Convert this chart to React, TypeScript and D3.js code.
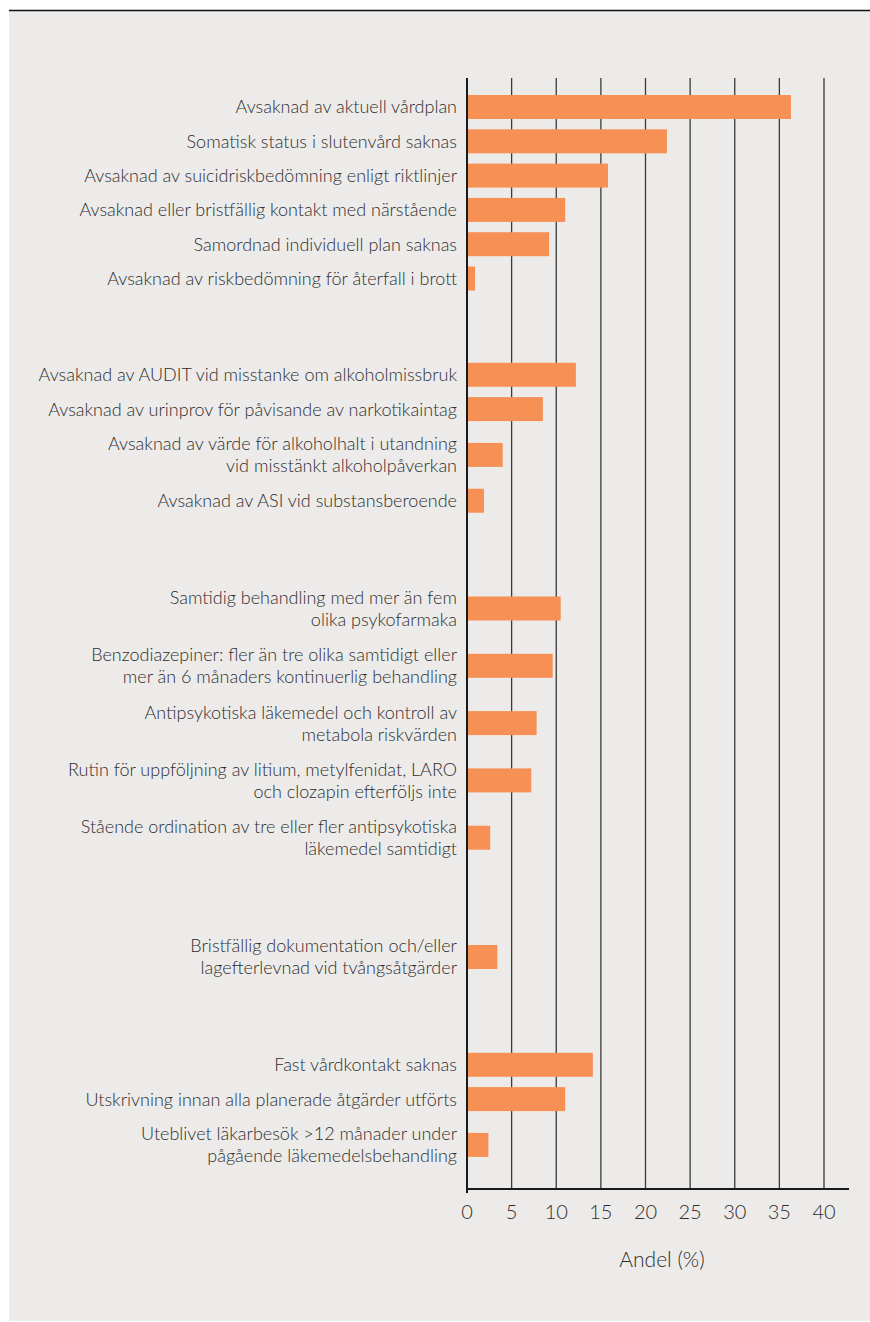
import React from "react";
import * as d3 from "d3";

const labels: string[] = [
  "Avsaknad av aktuell vårdplan",
  "Somatisk status i slutenvård saknas",
  "Avsaknad av suicidriskbedömning enligt riktlinjer",
  "Avsaknad eller bristfällig kontakt med närstående",
  "Samordnad individuell plan saknas",
  "Avsaknad av riskbedömning för återfall i brott",
  "Avsaknad av AUDIT vid misstanke om alkoholmissbruk",
  "Avsaknad av urinprov för påvisande av narkotikaintag",
  "Avsaknad av värde för alkoholhalt i utandning\nvid misstänkt alkoholpåverkan",
  "Avsaknad av ASI vid substansberoende",
  "Samtidig behandling med mer än fem\nolika psykofarmaka",
  "Benzodiazepiner: fler än tre olika samtidigt eller\nmer än 6 månaders kontinuerlig behandling",
  "Antipsykotiska läkemedel och kontroll av\nmetabola riskvärden",
  "Rutin för uppföljning av litium, metylfenidat, LARO\noch clozapin efterföljs inte",
  "Stående ordination av tre eller fler antipsykotiska\nläkemedel samtidigt",
  "Bristfällig dokumentation och/eller\nlagefterlevnad vid tvångsåtgärder",
  "Fast vårdkontakt saknas",
  "Utskrivning innan alla planerade åtgärder utförts",
  "Uteblivet läkarbesök >12 månader under\npågående läkemedelsbehandling",
];

const values: number[] = [
  36.3, 22.4, 15.8, 11.0, 9.2, 0.9,
  12.2, 8.5, 4.0, 1.9,
  10.5, 9.6, 7.8, 7.2, 2.6,
  3.4,
  14.1, 11.0, 2.4,
];

const groups: number[] = [
  0, 0, 0, 0, 0, 0,
  1, 1, 1, 1,
  2, 2, 2, 2, 2,
  3,
  4, 4, 4,
];

const xTicks: number[] = [0, 5, 10, 15, 20, 25, 30, 35, 40];
const xTitle = "Andel (%)";

const W = 870;
const H = 1322;
const FONT = "Lato, 'Open Sans', sans-serif";
const BAR = "#F79055";
const BG = "#EDEBE9";
const TXT = "#2e2e2e";

// layout units (px): single-line row height, double-line row height, group gap
const SINGLE = 34.3;
const DOUBLE = 57.3;
const GAP = 62;

export default function App() {
  const lines = labels.map((l) => l.split("\n"));
  const heights = lines.map((ls) => (ls.length > 1 ? DOUBLE : SINGLE));
  const centers: number[] = [];
  let acc = 0;
  labels.forEach((_, i) => {
    if (i > 0) {
      acc += heights[i - 1] / 2 + heights[i] / 2;
      if (groups[i] !== groups[i - 1]) acc += GAP;
    }
    centers.push(acc);
  });
  const total = acc;
  const y = d3.scaleLinear().domain([0, total]).range([107, 107 + total]);
  const x = d3.scaleLinear().domain([0, 40]).range([467, 824]);
  const barH = 24;
  const top = 78;
  const axisY = 1189;
  const axisEnd = 849;

  return (
    <svg
      width={W}
      height={H}
      style={{ position: "absolute", left: 0, top: 0, display: "block" }}
      fontFamily={FONT}
    >
      <rect x={0} y={0} width={W} height={H} fill="#ffffff" />
      <rect x={9} y={11} width={W - 9} height={1310} fill={BG} />
      <line x1={9} x2={W} y1={10.5} y2={10.5} stroke="#111" strokeWidth={1.5} />

      {xTicks.slice(1).map((t) => (
        <line
          key={"g" + t}
          x1={x(t)}
          x2={x(t)}
          y1={top}
          y2={axisY}
          stroke="#3a3a3a"
          strokeWidth={1.3}
        />
      ))}

      {values.map((v, i) => (
        <rect
          key={"b" + i}
          x={x(0)}
          y={y(centers[i]) - barH / 2}
          width={x(v) - x(0)}
          height={barH}
          fill={BAR}
        />
      ))}

      <line x1={x(0)} x2={x(0)} y1={top} y2={axisY + 4} stroke="#1a1a1a" strokeWidth={2} />
      <line x1={x(0) - 1} x2={axisEnd} y1={axisY} y2={axisY} stroke="#1a1a1a" strokeWidth={2} />

      {lines.map((ls, i) => (
        <text
          key={"l" + i}
          x={x(0) - 10}
          y={y(centers[i])}
          textAnchor="end"
          fontSize={18}
          fontWeight={300}
          fill={TXT}
        >
          {ls.map((s, j) => (
            <tspan
              key={j}
              x={x(0) - 10}
              y={y(centers[i]) + (j - (ls.length - 1) / 2) * 22}
              dy="0.36em"
            >
              {s}
            </tspan>
          ))}
        </text>
      ))}

      {xTicks.map((t) => (
        <text
          key={"t" + t}
          x={x(t)}
          y={1219}
          textAnchor="middle"
          fontSize={20}
          fontWeight={300}
          fill={TXT}
        >
          {t}
        </text>
      ))}

      <text x={662} y={1267} textAnchor="middle" fontSize={21} fontWeight={300} fill={TXT}>
        {xTitle}
      </text>
    </svg>
  );
}
